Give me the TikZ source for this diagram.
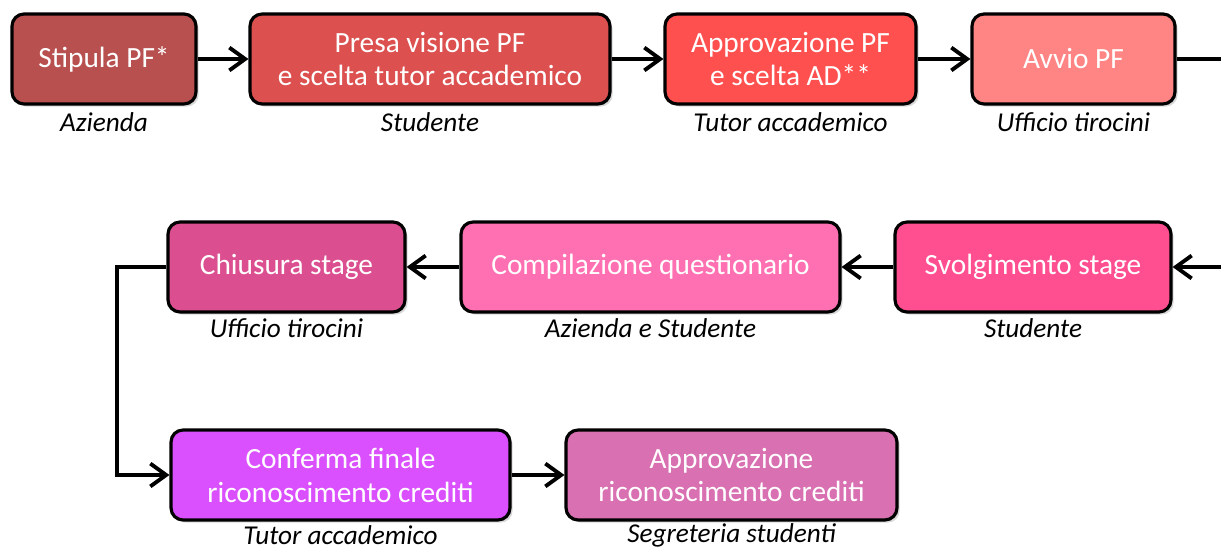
\documentclass[tikz,border=0pt]{standalone}
\usepackage{fontspec}
\setmainfont{Carlito}
\usepackage{tikz}
\usetikzlibrary{arrows.meta,shadows,positioning}
\definecolor{colstip}{HTML}{B85050}
\definecolor{colpresa}{HTML}{DC5050}
\definecolor{colapprpf}{HTML}{FF5050}
\definecolor{colavvio}{HTML}{FF8585}
\definecolor{colsvolg}{HTML}{FF4F91}
\definecolor{colcompil}{HTML}{FF70B2}
\definecolor{colchius}{HTML}{DB4F91}
\definecolor{colconf}{HTML}{DA50FF}
\definecolor{colapprrc}{HTML}{D870B2}
\tikzset{
  stepbox/.style={draw=black, line width=1.8pt, rounded corners=0.24cm,
    minimum height=1.8cm, align=center, text=white, inner sep=2pt,
    font=\fontsize{16.7}{19.3}\selectfont,
    drop shadow={opacity=0.3, shadow xshift=1.5pt, shadow yshift=-1.5pt}},
  role/.style={draw=none, inner sep=0pt, font=\fontsize{15.5}{18}\selectfont\itshape},
  flow/.style={line width=2.2pt, -{Straight Barb[length=9pt,width=13pt,line width=2.2pt]}}
}
\begin{document}
\begin{tikzpicture}[x=0.02cm,y=-0.02cm]
\fill[white] (0,0) rectangle (1221,547);
\useasboundingbox (0,0) rectangle (1221,547);

\node[stepbox, fill=colstip, minimum width=3.68cm](stip) at (104,59)
{Stipula PF*};
\node[stepbox, fill=colpresa, minimum width=7.2cm](presa) at (430,59)
{Presa visione PF\\e scelta tutor accademico};
\node[stepbox, fill=colapprpf, minimum width=5.02cm](apprpf) at (790.5,59)
{Approvazione PF\\e scelta AD**};
\node[stepbox, fill=colavvio, minimum width=4.06cm](avvio) at (1073.5,59)
{Avvio PF};

\node[stepbox, fill=colsvolg, minimum width=5.52cm](svolg) at (1033,267)
{Svolgimento stage};
\node[stepbox, fill=colcompil, minimum width=7.58cm](compil) at (650.5,267)
{Compilazione questionario};
\node[stepbox, fill=colchius, minimum width=4.74cm](chius) at (286.5,267)
{Chiusura stage};

\node[stepbox, fill=colconf, minimum width=6.78cm](conf) at (340.5,475)
{Conferma finale\\riconoscimento crediti};
\node[stepbox, fill=colapprrc, minimum width=6.62cm](apprrc) at (731.5,475)
{Approvazione\\riconoscimento crediti};

% who does each step
\node[role](stipR) at (104,122) {Azienda};
\node[role](presaR) at (430,122) {Studente};
\node[role](apprpfR) at (790.5,122) {Tutor accademico};
\node[role](avvioR) at (1073.5,122) {Ufficio tirocini};
\node[role](svolgR) at (1033,328) {Studente};
\node[role](compilR) at (650.5,328) {Azienda e Studente};
\node[role](chiusR) at (286.5,328) {Ufficio tirocini};
\node[role](confR) at (340.5,535) {Tutor accademico};
\node[role](apprrcR) at (731.5,535) {Segreteria studenti};

\coordinate (rt) at (1224,59);
\coordinate (rb) at (1224,267);
\coordinate (lt) at (117,267);

\draw[flow] (stip) -- (presa);
\draw[flow] (presa) -- (apprpf);
\draw[flow] (apprpf) -- (avvio);
\draw[flow] (avvio.east) -- (rt) -- (rb) -- (svolg.east);
\draw[flow] (svolg) -- (compil);
\draw[flow] (compil) -- (chius);
\draw[flow] (chius.west) -- (lt) |- (conf.west);
\draw[flow] (conf) -- (apprrc);
\end{tikzpicture}
\end{document}
